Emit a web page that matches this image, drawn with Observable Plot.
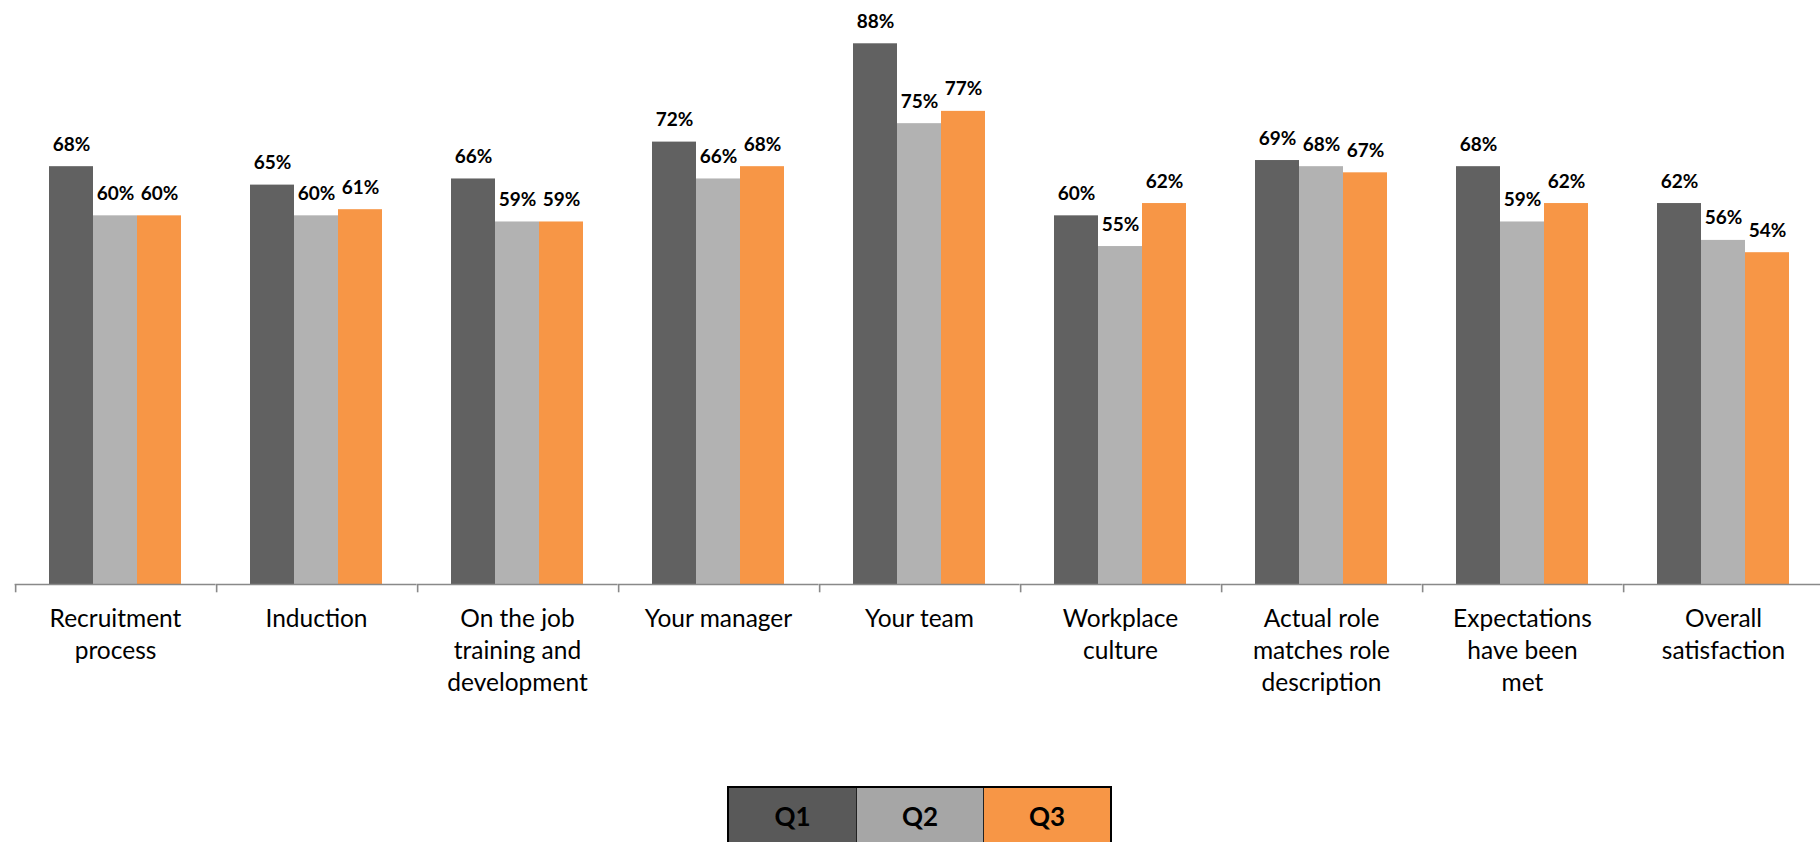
<!DOCTYPE html>
<html>
<head>
<meta charset="utf-8">
<script src="https://cdn.jsdelivr.net/npm/d3@7"></script>
<script src="https://cdn.jsdelivr.net/npm/@observablehq/plot@0.6"></script>
<style>
  html, body { margin: 0; padding: 0; background: #fff; overflow: hidden; }
  #chart { position: absolute; left: 0; top: 0; }
  #legend { position: absolute; left: 727px; top: 786px; display: flex; border: 2px solid #000; border-bottom: none; }
  #legend div { width: 127px; height: 62px; display: flex; align-items: center; justify-content: center;
    font-family: Lato, "Open Sans", sans-serif; font-weight: bold; font-size: 26px; color: #000;
    border-left: 1px solid #222; box-sizing: border-box; padding-bottom: 6px; }
  #legend div:first-child { border-left: none; }
</style>
</head>
<body>
<div id="chart"></div>
<div id="legend"></div>
<script>
const categories = [
  "Recruitment process", "Induction", "On the job training and development",
  "Your manager", "Your team", "Workplace culture",
  "Actual role matches role description", "Expectations have been met", "Overall satisfaction"
];
const tickLabels = [
  "Recruitment\nprocess", "Induction", "On the job\ntraining and\ndevelopment",
  "Your manager", "Your team", "Workplace\nculture",
  "Actual role\nmatches role\ndescription", "Expectations\nhave been\nmet", "Overall\nsatisfaction"
];
const seriesNames = ["Q1", "Q2", "Q3"];
const q1 = [68, 65, 66, 72, 88, 60, 69, 68, 62];
const q2 = [60, 60, 59, 66, 75, 55, 68, 59, 56];
const q3 = [60, 61, 59, 68, 77, 62, 67, 62, 54];
const barColors = ["#616161", "#b2b2b2", "#f79646"];
const legendColors = ["#595959", "#a6a6a6", "#f79646"];

const seriesValues = [q1, q2, q3];
const rows = [];
categories.forEach((c, i) => {
  seriesNames.forEach((s, j) => rows.push({category: c, series: s, value: seriesValues[j][i]}));
});

const plot = Plot.plot({
  width: 1820,
  height: 770,
  marginLeft: 0,
  marginRight: 0,
  marginTop: 31,
  marginBottom: 186,
  style: {fontFamily: "Lato, 'Open Sans', sans-serif", background: "#fff", overflow: "hidden"},
  fx: {domain: categories, range: [11.5, 1826.8], paddingInner: 0.331, paddingOuter: 0.1655, axis: null},
  x: {domain: seriesNames, padding: 0, axis: null},
  y: {domain: [0, 90], axis: null},
  color: {domain: seriesNames, range: barColors},
  marks: [
    Plot.barY(rows, {fx: "category", x: "series", y: "value", fill: "series", insetLeft: 0, insetRight: 0}),
    Plot.ruleY([0], {stroke: "#898989", strokeWidth: 1.6, insetLeft: -33.35, insetRight: -33.35}),
    Plot.ruleX([0], {x: () => "Q1", y1: 0, y2: -1.35, dx: -55.85, stroke: "#898989", strokeWidth: 1.6}),
    Plot.text(rows, {fx: "category", x: "series", y: "value", text: d => d.value + "%",
      lineAnchor: "bottom", dy: -16, fontSize: 19, fontWeight: "bold", fill: "#000"}),
    Plot.text(categories, {fx: d => d, text: (d, i) => tickLabels[i], frameAnchor: "bottom",
      lineAnchor: "top", dy: 20, fontSize: 24.5, lineHeight: 1.3, fill: "#000"})
  ]
});
document.getElementById("chart").appendChild(plot);

const legend = document.getElementById("legend");
seriesNames.forEach((s, j) => {
  const cell = document.createElement("div");
  cell.style.background = legendColors[j];
  cell.textContent = s;
  legend.appendChild(cell);
});
</script>
</body>
</html>
